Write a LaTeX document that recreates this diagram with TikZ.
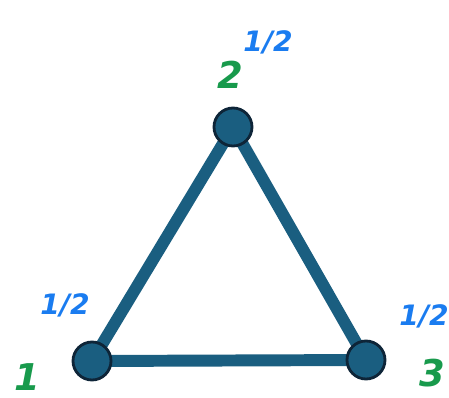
\documentclass[tikz,border=0pt]{standalone}
\usepackage{fontspec}
\newfontfamily\handfont{DejaVu Sans}
\usetikzlibrary{backgrounds}
\definecolor{edgeblue}{HTML}{1A5E80}
\definecolor{rimdark}{HTML}{0E2538}
\definecolor{weightblue}{HTML}{1A7CF0}
\definecolor{labelgreen}{HTML}{189A4C}

\begin{document}
\begin{tikzpicture}[
    vertex/.style={circle, fill=edgeblue, draw=rimdark, line width=1.6pt, minimum size=0.76cm, inner sep=0pt},
    edgeline/.style={draw=edgeblue, line width=6.8pt},
    weight/.style={text=weightblue, inner sep=0pt, font=\handfont\bfseries\itshape\fontsize{16}{16}\selectfont},
    vlabel/.style={text=labelgreen, inner sep=0pt, font=\handfont\bfseries\itshape\fontsize{21}{21}\selectfont},
]
\useasboundingbox (0,0) rectangle (8.98,7.94);

% ==================== VERTICES ====================
\node[vertex] (v_top)   at (4.66,5.40) {};
\node[vertex] (v_left)  at (1.84,0.72) {};
\node[vertex] (v_right) at (7.32,0.74) {};

% Edges (behind the vertices)
\begin{pgfonlayer}{background}
    \draw[edgeline] (v_top.center) -- (v_left.center);
    \draw[edgeline] (v_top.center) -- (v_right.center);
    \draw[edgeline] (v_left.center) -- (v_right.center);
\end{pgfonlayer}

% ==================== LABELS ====================
\node[vlabel] (n_top)   at (4.60,6.44) {2};
\node[vlabel] (n_left)  at (0.54,0.40) {1};
\node[vlabel] (n_right) at (8.64,0.48) {3};

% Weights
\node[weight] (w_top)   at (5.36,7.10) {1/2};
\node[weight] (w_left)  at (1.30,1.84) {1/2};
\node[weight] (w_right) at (8.48,1.62) {1/2};

\end{tikzpicture}
\end{document}
